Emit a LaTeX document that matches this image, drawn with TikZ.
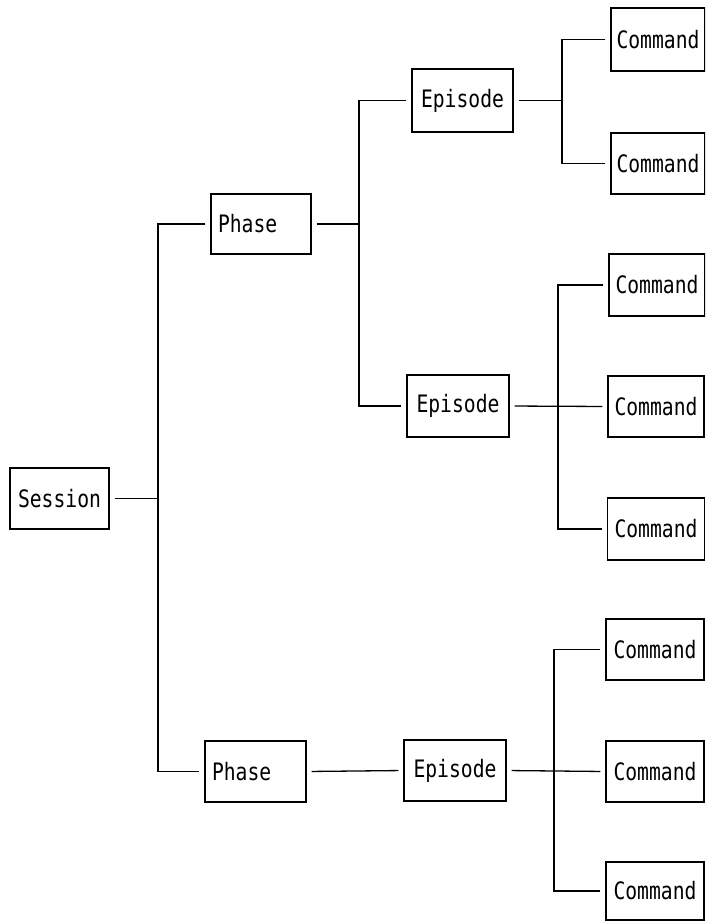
\documentclass[tikz,border=0pt]{standalone}
\usepackage{fontspec}
\setmainfont[FakeStretch=0.82]{DejaVu Sans Mono}
\begin{document}
\begin{tikzpicture}[x=1pt,y=-1pt,
  box/.style={draw,line width=1.3pt,inner sep=0pt,font=\fontsize{24}{28}\selectfont},
  wire/.style={line width=1.3pt},
  gs/.style={shorten <=5pt},
  ge/.style={shorten >=5pt}]
\useasboundingbox (0,0) rectangle (705,922);
\begin{scope}
\clip (0,0) rectangle (705,922);
\node[box,minimum width=99pt,minimum height=61pt] (sess) at (59.5,498.5) {Session};
\node[box,minimum width=100pt,minimum height=60pt] (ph1) at (261,224) {\makebox[86pt][l]{Phase}};
\node[box,minimum width=101pt,minimum height=61pt] (ph2) at (255.5,771.5) {\makebox[87pt][l]{Phase}};
\node[box,minimum width=101pt,minimum height=63pt] (ep1) at (462.5,100.5) {Episode};
\node[box,minimum width=102pt,minimum height=62pt] (ep2) at (458,406) {Episode};
\node[box,minimum width=102pt,minimum height=61pt] (ep3) at (455,770.5) {Episode};
\node[box,minimum width=94pt,minimum height=63pt] (c1) at (658,39.5) {Command};
\node[box,minimum width=94pt,minimum height=61pt] (c2) at (658,163.5) {Command};
\node[box,minimum width=96pt,minimum height=62pt] (c3) at (657,285) {Command};
\node[box,minimum width=96pt,minimum height=61pt] (c4) at (656,406.5) {Command};
\node[box,minimum width=97pt,minimum height=62pt] (c5) at (656,529) {Command};
\node[box,minimum width=98pt,minimum height=61pt] (c6) at (655,649.5) {Command};
\node[box,minimum width=98pt,minimum height=61pt] (c7) at (655,771.5) {Command};
\node[box,minimum width=98pt,minimum height=58pt] (c8) at (655,891) {Command};
\end{scope}
\coordinate (b1) at (158,0);
\coordinate (b2) at (359,0);
\coordinate (b3) at (562,0);
\coordinate (b4) at (558,0);
\coordinate (b5) at (554,0);
% session level
\draw[wire,gs] (sess.east) -- (sess.east -| b1);
\draw[wire,gs,ge] (ph1.west) -- (ph1.west -| b1) -- (ph2.west -| b1) -- (ph2.west);
% phase 1
\draw[wire,gs] (ph1.east) -- (ph1.east -| b2);
\draw[wire,gs,ge] (ep1.west) -- (ep1.west -| b2) -- (ep2.west -| b2) -- (ep2.west);
% phase 2
\draw[wire,gs,ge] (ph2.east) -- (ep3.west);
% episode 1
\draw[wire,gs] (ep1.east) -- (ep1.east -| b3);
\draw[wire,gs,ge] (c1.west) -- (c1.west -| b3) -- (c2.west -| b3) -- (c2.west);
% episode 2
\draw[wire,gs,ge] (ep2.east) -- (c4.west);
\draw[wire,gs,ge] (c3.west) -- (c3.west -| b4) -- (c5.west -| b4) -- (c5.west);
% episode 3
\draw[wire,gs,ge] (ep3.east) -- (c7.west);
\draw[wire,gs,ge] (c6.west) -- (c6.west -| b5) -- (c8.west -| b5) -- (c8.west);
\end{tikzpicture}
\end{document}
